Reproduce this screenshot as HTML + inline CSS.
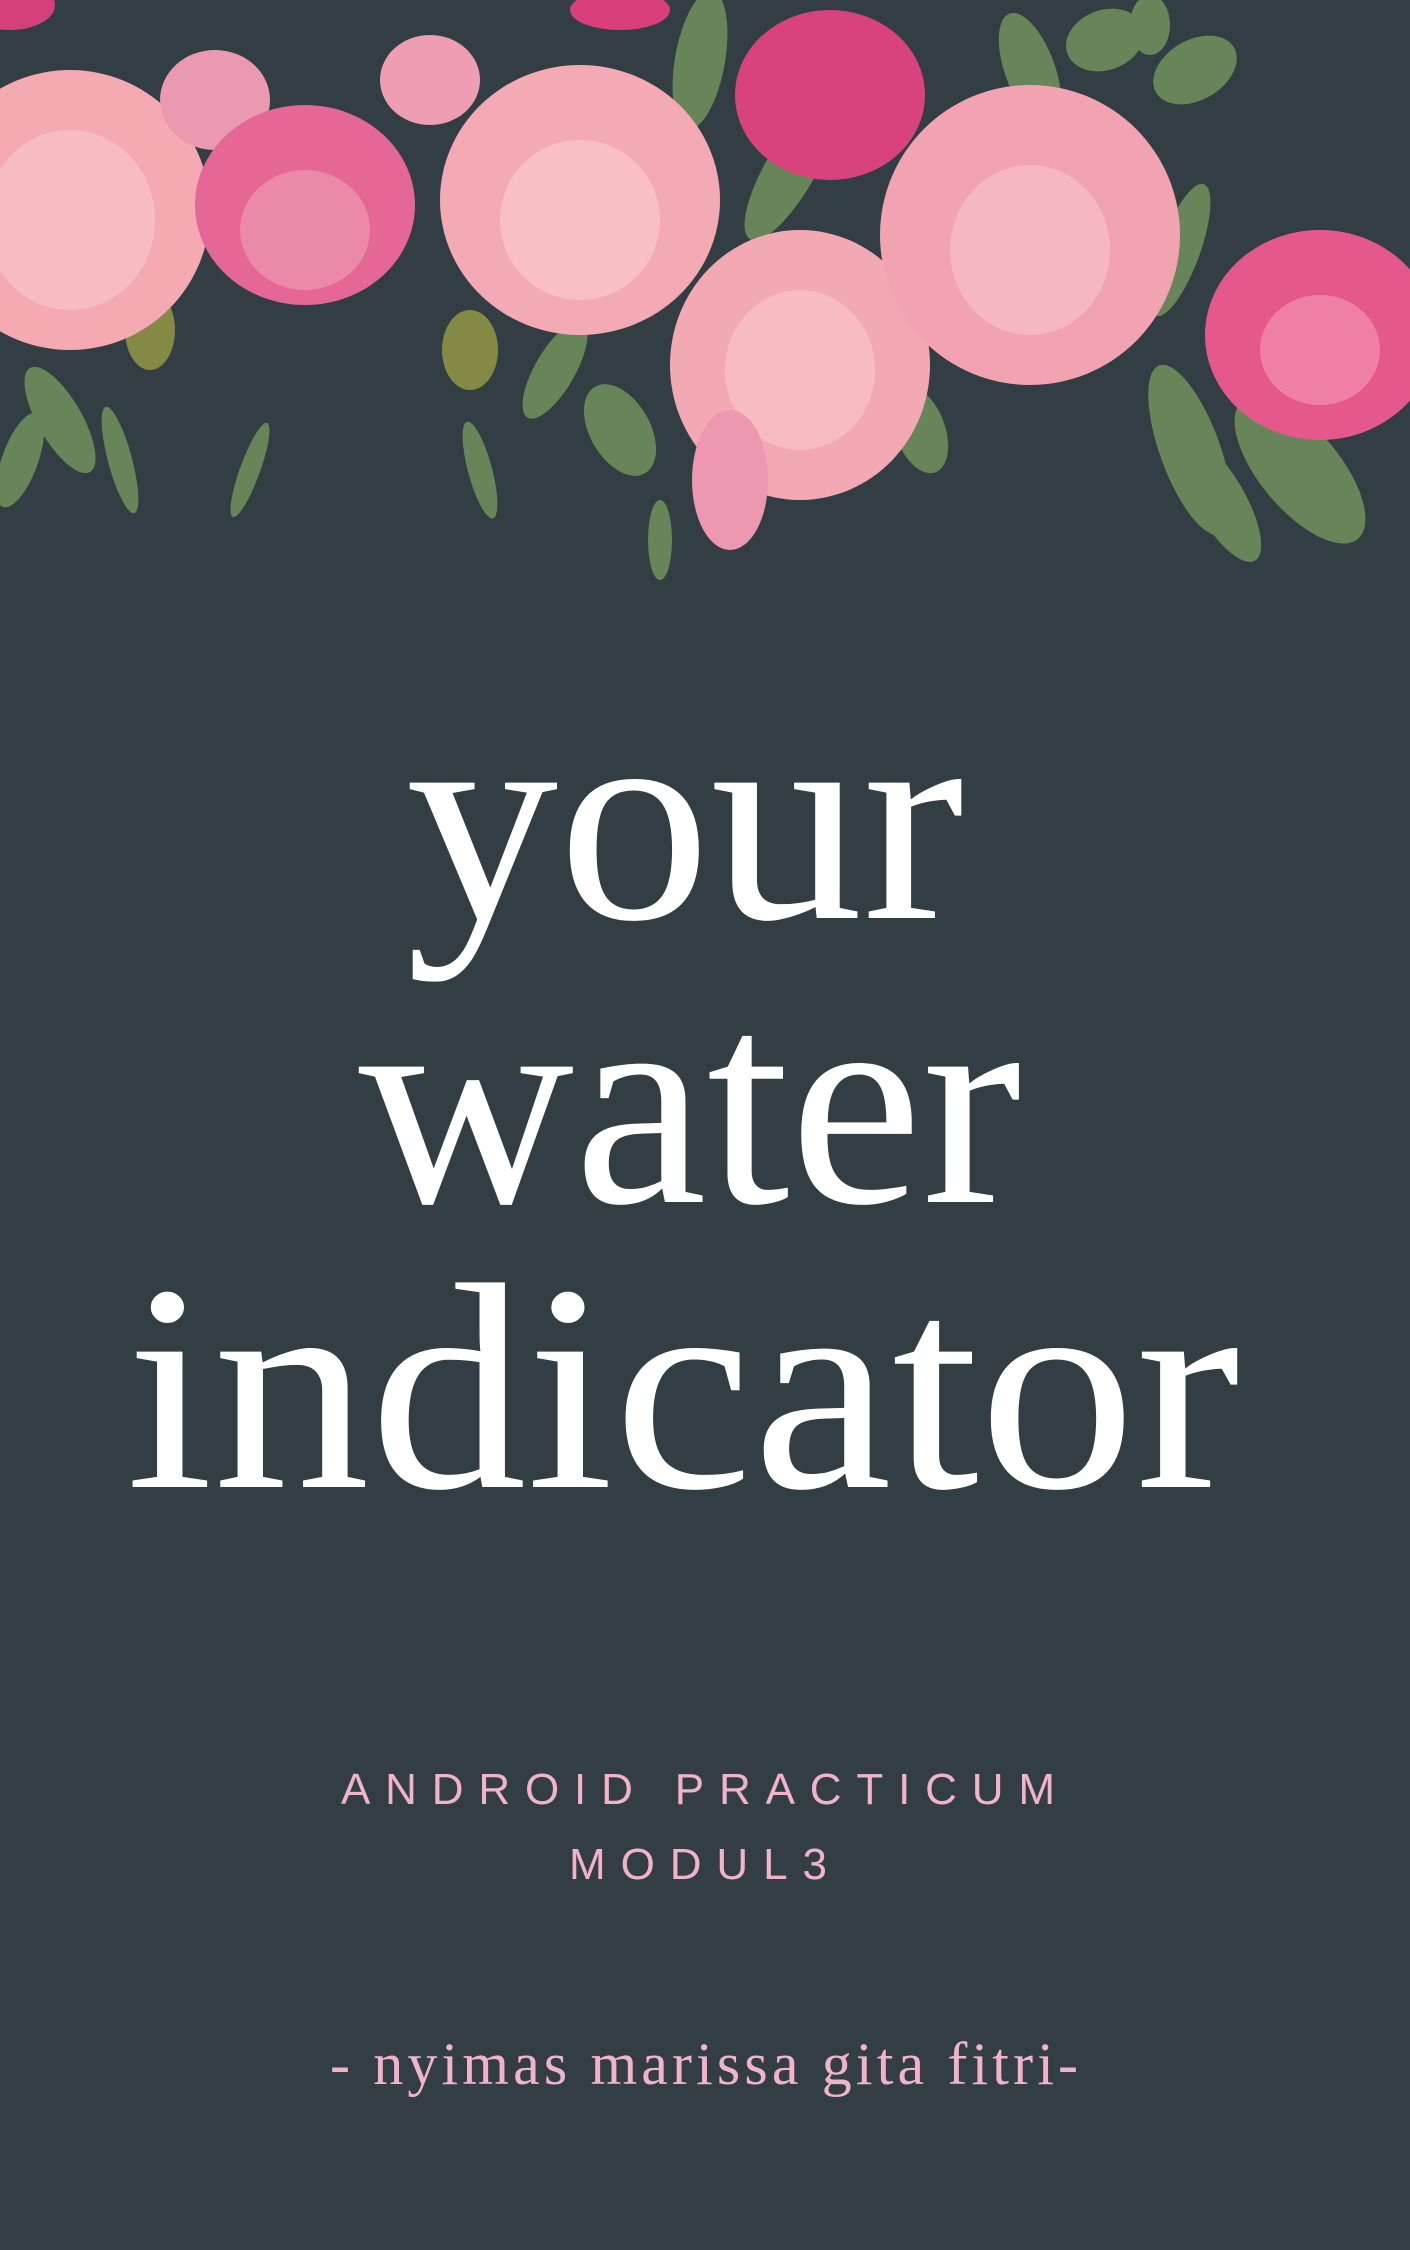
<!DOCTYPE html>
<html><head><meta charset="utf-8">
<style>
html,body{margin:0;padding:0;background:#323e43;}
#cover{position:relative;width:1410px;height:2250px;background:#323e43;overflow:hidden;}
svg{position:absolute;left:0;top:0;}
</style></head>
<body>
<div id="cover">
<svg width="1410" height="2250" viewBox="0 0 1410 2250">
<g>
  <g fill="#6b8a5a" opacity="0.95">
    <ellipse cx="60" cy="420" rx="22" ry="60" transform="rotate(-30 60 420)"/>
    <ellipse cx="20" cy="460" rx="18" ry="50" transform="rotate(20 20 460)"/>
    <ellipse cx="150" cy="330" rx="25" ry="40" fill="#8a8f45"/>
    <ellipse cx="120" cy="460" rx="12" ry="55" transform="rotate(-15 120 460)"/>
    <ellipse cx="250" cy="470" rx="10" ry="50" transform="rotate(20 250 470)"/>
    <ellipse cx="470" cy="350" rx="28" ry="40" fill="#8a8f45"/>
    <ellipse cx="555" cy="370" rx="20" ry="55" transform="rotate(30 555 370)"/>
    <ellipse cx="620" cy="430" rx="30" ry="50" transform="rotate(-30 620 430)"/>
    <ellipse cx="480" cy="470" rx="12" ry="50" transform="rotate(-15 480 470)"/>
    <ellipse cx="700" cy="60" rx="25" ry="70" transform="rotate(10 700 60)"/>
    <ellipse cx="790" cy="170" rx="25" ry="80" transform="rotate(30 790 170)"/>
    <ellipse cx="1030" cy="70" rx="25" ry="60" transform="rotate(-20 1030 70)"/>
    <ellipse cx="1195" cy="70" rx="45" ry="30" transform="rotate(-30 1195 70)"/>
    <ellipse cx="1150" cy="25" rx="20" ry="30"/>
    <ellipse cx="1180" cy="250" rx="20" ry="70" transform="rotate(20 1180 250)"/>
    <ellipse cx="1190" cy="450" rx="30" ry="90" transform="rotate(-20 1190 450)"/>
    <ellipse cx="1300" cy="470" rx="40" ry="90" transform="rotate(-40 1300 470)"/>
    <ellipse cx="1220" cy="500" rx="25" ry="70" transform="rotate(-30 1220 500)"/>
    <ellipse cx="920" cy="430" rx="25" ry="45" transform="rotate(-20 920 430)"/>
    <ellipse cx="660" cy="540" rx="12" ry="40" fill="#6b8a5a"/>
    <ellipse cx="1105" cy="40" rx="40" ry="30" transform="rotate(-20 1105 40)"/>
  </g>
  <g>
    <ellipse cx="70" cy="210" rx="140" ry="140" fill="#f4a9b3"/>
    <ellipse cx="70" cy="220" rx="85" ry="90" fill="#f7bcc2"/>
    <ellipse cx="215" cy="100" rx="55" ry="50" fill="#e99ab0"/>
    <ellipse cx="305" cy="205" rx="110" ry="100" fill="#e46796"/>
    <ellipse cx="305" cy="230" rx="65" ry="60" fill="#eb8aa8"/>
    <ellipse cx="430" cy="80" rx="50" ry="45" fill="#ee9eb3"/>
    <ellipse cx="580" cy="200" rx="140" ry="135" fill="#f4aab5"/>
    <ellipse cx="580" cy="220" rx="80" ry="80" fill="#f8c0c5"/>
    <ellipse cx="620" cy="10" rx="50" ry="20" fill="#d83f7a"/>
    <ellipse cx="830" cy="95" rx="95" ry="85" fill="#d9437d"/>
    <ellipse cx="800" cy="365" rx="130" ry="135" fill="#f3a9b4"/>
    <ellipse cx="800" cy="370" rx="75" ry="80" fill="#f7bcc2"/>
    <ellipse cx="1030" cy="235" rx="150" ry="150" fill="#f2a3b1"/>
    <ellipse cx="1030" cy="250" rx="80" ry="85" fill="#f6b8c0"/>
    <ellipse cx="730" cy="480" rx="38" ry="70" fill="#ee97b0"/>
    <ellipse cx="1320" cy="335" rx="115" ry="105" fill="#e5588b"/>
    <ellipse cx="1320" cy="350" rx="60" ry="55" fill="#ed80a4"/>
    <ellipse cx="10" cy="5" rx="45" ry="25" fill="#d6407a"/>
  </g>
</g>
<g font-family="'Liberation Serif', serif" fill="#ffffff" text-anchor="middle">
  <text x="685" y="918" font-size="295" textLength="558" lengthAdjust="spacingAndGlyphs">your</text>
  <text x="690" y="1202" font-size="295" textLength="663" lengthAdjust="spacingAndGlyphs">water</text>
  <text x="683" y="1487" font-size="295" textLength="1114" lengthAdjust="spacingAndGlyphs">indicator</text>
</g>
<g font-family="'Liberation Sans', sans-serif" fill="#f0b3c8" text-anchor="middle" font-size="44">
  <text x="698" y="1804" textLength="714" lengthAdjust="spacing">ANDROID PRACTICUM</text>
  <text x="698" y="1879" textLength="258" lengthAdjust="spacing">MODUL3</text>
</g>
<text x="704" y="2084" font-family="'Liberation Serif', serif" font-size="60" fill="#f0b3c8" text-anchor="middle" textLength="748" lengthAdjust="spacing">- nyimas marissa gita fitri-</text>
</svg>
</div>
</body></html>
